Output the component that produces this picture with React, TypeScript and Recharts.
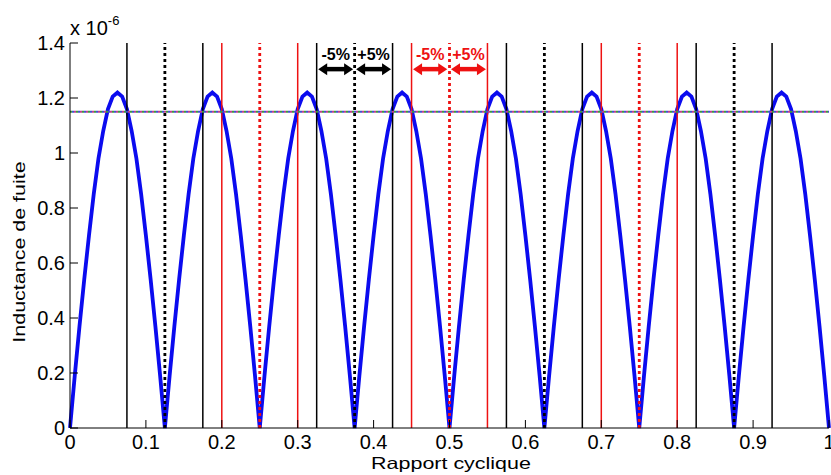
import React from 'react';
import { LineChart, Line, XAxis, YAxis, ReferenceLine } from 'recharts';

// inductance (x 1e-6), 20 samples per arch
const inductance = [
  0, 0.19, 0.37, 0.54, 0.70, 0.85, 0.98, 1.08, 1.16, 1.205, 1.22, 1.205, 1.16, 1.08, 0.98, 0.85, 0.70, 0.54, 0.37, 0.19,
  0, 0.19, 0.37, 0.54, 0.70, 0.85, 0.98, 1.08, 1.16, 1.205, 1.22, 1.205, 1.16, 1.08, 0.98, 0.85, 0.70, 0.54, 0.37, 0.19,
  0, 0.19, 0.37, 0.54, 0.70, 0.85, 0.98, 1.08, 1.16, 1.205, 1.22, 1.205, 1.16, 1.08, 0.98, 0.85, 0.70, 0.54, 0.37, 0.19,
  0, 0.19, 0.37, 0.54, 0.70, 0.85, 0.98, 1.08, 1.16, 1.205, 1.22, 1.205, 1.16, 1.08, 0.98, 0.85, 0.70, 0.54, 0.37, 0.19,
  0, 0.19, 0.37, 0.54, 0.70, 0.85, 0.98, 1.08, 1.16, 1.205, 1.22, 1.205, 1.16, 1.08, 0.98, 0.85, 0.70, 0.54, 0.37, 0.19,
  0, 0.19, 0.37, 0.54, 0.70, 0.85, 0.98, 1.08, 1.16, 1.205, 1.22, 1.205, 1.16, 1.08, 0.98, 0.85, 0.70, 0.54, 0.37, 0.19,
  0, 0.19, 0.37, 0.54, 0.70, 0.85, 0.98, 1.08, 1.16, 1.205, 1.22, 1.205, 1.16, 1.08, 0.98, 0.85, 0.70, 0.54, 0.37, 0.19,
  0, 0.19, 0.37, 0.54, 0.70, 0.85, 0.98, 1.08, 1.16, 1.205, 1.22, 1.205, 1.16, 1.08, 0.98, 0.85, 0.70, 0.54, 0.37, 0.19,
  0,
];

const xTicks = [0, 0.1, 0.2, 0.3, 0.4, 0.5, 0.6, 0.7, 0.8, 0.9, 1];
const yTicks = [0, 0.2, 0.4, 0.6, 0.8, 1, 1.2, 1.4];

const blackSolid = [0.075, 0.175, 0.325, 0.425, 0.575, 0.675, 0.825, 0.925];
const redSolid = [0.2, 0.3, 0.45, 0.55, 0.7, 0.8];
const blackDotted = [0.125, 0.375, 0.625, 0.875];
const redDotted = [0.25, 0.5, 0.75];
const threshold = 1.15;

const arrowY = 1.305;
const blackArrows = [[0.327, 0.373], [0.377, 0.423]];
const redArrows = [[0.452, 0.497], [0.502, 0.548]];
const arrowLabels = ['-5%', '+5%'];

const data = inductance.map((v, i) => ({ d: i / 160, L: v }));

const BLUE = '#0b0bef';
const RED = '#ee1111';
const FONT = '"Liberation Sans", Arial, sans-serif';

function arrowShape(color: string, label: string) {
  return (p: any) => {
    const { x1, y1, x2 } = p;
    const h = 9;
    const w = 6;
    const mid = (x1 + x2) / 2;
    return (
      <g>
        <line x1={x1 + h - 1} y1={y1} x2={x2 - h + 1} y2={y1} stroke={color} strokeWidth={4.5} />
        <polygon points={`${x1},${y1} ${x1 + h},${y1 - w} ${x1 + h},${y1 + w}`} fill={color} />
        <polygon points={`${x2},${y1} ${x2 - h},${y1 - w} ${x2 - h},${y1 + w}`} fill={color} />
        <text x={mid} y={y1 - 9} textAnchor="middle" fontFamily={FONT} fontWeight="bold" fontSize={16} fill={color}>
          {label}
        </text>
      </g>
    );
  };
}

export default function App() {
  return (
    <div style={{ position: 'absolute', left: 0, top: 0, width: 831, height: 475, background: '#fff', fontFamily: FONT }}>
      <LineChart width={831} height={475} data={data} margin={{ top: 43, right: 2, left: 0, bottom: 0 }}>
        <XAxis
          dataKey="d"
          type="number"
          domain={[0, 1]}
          ticks={xTicks}
          interval={0}
          height={47}
          stroke="#000"
          tickSize={-8}
          tickMargin={15}
          tick={{ fill: '#000', fontSize: 20, fontFamily: FONT }}
        />
        <XAxis
          xAxisId="top"
          orientation="top"
          dataKey="d"
          type="number"
          domain={[0, 1]}
          ticks={xTicks}
          height={0}
          stroke="#000"
          tickSize={-8}
          tick={false}
        />
        <YAxis
          type="number"
          domain={[0, 1.4]}
          ticks={yTicks}
          interval={0}
          width={70}
          stroke="#000"
          tickSize={-8}
          tickMargin={13}
          tick={{ fill: '#000', fontSize: 20, fontFamily: FONT }}
        />
        <YAxis
          yAxisId="right"
          orientation="right"
          type="number"
          domain={[0, 1.4]}
          ticks={yTicks}
          width={0}
          stroke="#000"
          tickSize={-8}
          tick={false}
        />
        <Line type="linear" dataKey="L" stroke={BLUE} strokeWidth={3.8} dot={false} isAnimationActive={false} />
        {blackSolid.map((x) => (
          <ReferenceLine key={'bs' + x} x={x} stroke="#000" strokeWidth={1.5} />
        ))}
        {redSolid.map((x) => (
          <ReferenceLine key={'rs' + x} x={x} stroke={RED} strokeWidth={1.5} />
        ))}
        {blackDotted.map((x) => (
          <ReferenceLine key={'bd' + x} x={x} stroke="#000" strokeWidth={2.8} strokeDasharray="3 3" />
        ))}
        {redDotted.map((x) => (
          <ReferenceLine key={'rd' + x} x={x} stroke={RED} strokeWidth={2.8} strokeDasharray="3 3" />
        ))}
        <ReferenceLine y={threshold} stroke="#3c9a3c" strokeWidth={2} strokeDasharray="2 4" />
        <ReferenceLine y={threshold} stroke="#c0408a" strokeWidth={2} strokeDasharray="2 4" strokeDashoffset={2} />
        <ReferenceLine y={threshold} stroke="#4050d0" strokeWidth={2} strokeDasharray="2 4" strokeDashoffset={4} />
        {blackArrows.map((s, i) => (
          <ReferenceLine
            key={'ba' + i}
            segment={[{ x: s[0], y: arrowY }, { x: s[1], y: arrowY }]}
            shape={arrowShape('#000', arrowLabels[i])}
          />
        ))}
        {redArrows.map((s, i) => (
          <ReferenceLine
            key={'ra' + i}
            segment={[{ x: s[0], y: arrowY }, { x: s[1], y: arrowY }]}
            shape={arrowShape(RED, arrowLabels[i])}
          />
        ))}
      </LineChart>
      <div style={{ position: 'absolute', left: 70, top: 15, fontSize: 20, color: '#000', whiteSpace: 'nowrap' }}>
        x 10<sup style={{ fontSize: 13, position: 'relative', top: -2 }}>-6</sup>
      </div>
      <div
        style={{
          position: 'absolute',
          left: 451,
          top: 463,
          fontSize: 16.5,
          color: '#000',
          whiteSpace: 'nowrap',
          transform: 'translate(-50%, -50%) scaleX(1.3)',
        }}
      >
        Rapport cyclique
      </div>
      <div
        style={{
          position: 'absolute',
          left: 19,
          top: 252,
          fontSize: 16.5,
          color: '#000',
          whiteSpace: 'nowrap',
          transform: 'translate(-50%, -50%) rotate(-90deg) scaleX(1.3)',
        }}
      >
        Inductance de fuite
      </div>
    </div>
  );
}
